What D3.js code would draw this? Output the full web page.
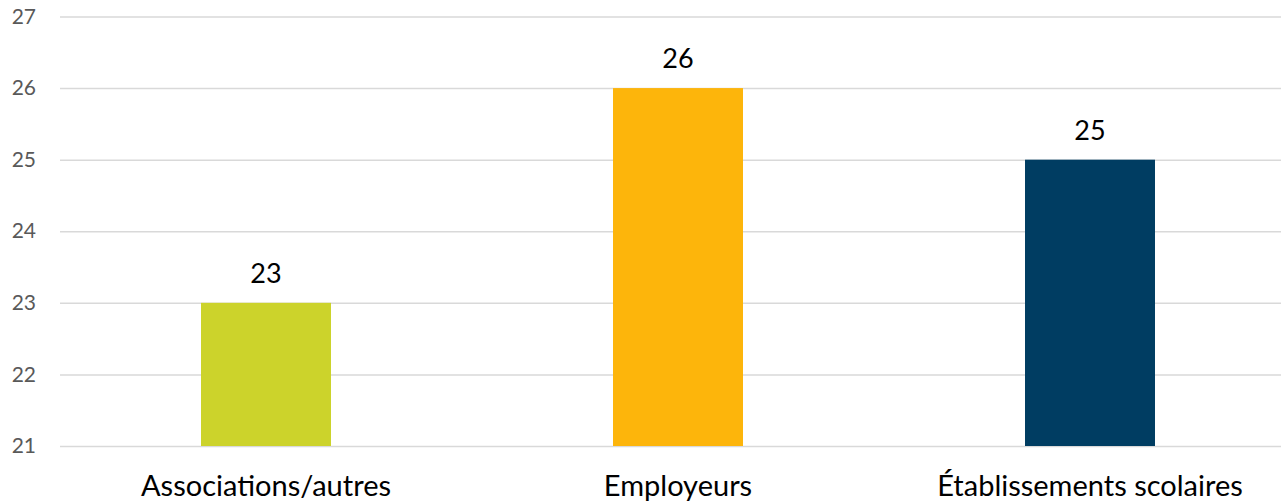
<!DOCTYPE html>
<html><head><meta charset="utf-8">
<script src="https://cdn.jsdelivr.net/npm/d3@7"></script>
<style>body{margin:0;background:#fff}svg{display:block}</style>
</head><body>
<svg id="c" width="1281" height="502"></svg>
<script>
const categories = ["Associations/autres", "Employeurs", "Établissements scolaires"];
const values = [23, 26, 25];
const colors = ["#CCD32B", "#FDB50B", "#003D62"];
const yTicks = [21, 22, 23, 24, 25, 26, 27];

(function () {
const svg = d3.select("#c");
const mLeft = 60, mRight = 1296, mTop = 16.5, mBottom = 446;
const x = d3.scaleBand().domain(categories).range([mLeft, mRight]).paddingInner(0.6845).paddingOuter(0.34225);
const y = d3.scaleLinear().domain([21, 27]).range([mBottom, mTop]);
const font = "Lato, 'Open Sans', sans-serif";

const yAxis = d3.axisLeft(y).tickValues(yTicks).tickSize(-(1281 - mLeft)).tickPadding(24).tickFormat(d3.format("d"));
const gy = svg.append("g").attr("transform", `translate(${mLeft},0)`).call(yAxis);
gy.select(".domain").remove();
gy.selectAll(".tick line").attr("stroke", "#D9D9D9").attr("stroke-width", 1.5);
gy.selectAll(".tick text").attr("fill", "#595959").attr("font-family", font).attr("font-size", 21).attr("x", -24);

svg.selectAll("rect.bar").data(values).enter().append("rect")
  .attr("class", "bar")
  .attr("x", (d, i) => x(categories[i]))
  .attr("width", x.bandwidth())
  .attr("y", d => y(d))
  .attr("height", d => y(21) - y(d))
  .attr("fill", (d, i) => colors[i]);

svg.selectAll("text.val").data(values).enter().append("text")
  .attr("class", "val")
  .attr("x", (d, i) => x(categories[i]) + x.bandwidth() / 2)
  .attr("y", d => y(d) - 20)
  .attr("text-anchor", "middle")
  .attr("font-family", font).attr("font-size", 27).attr("fill", "#000")
  .text(d => d);

const xAxis = d3.axisBottom(x).tickSize(0).tickPadding(0);
const gx = svg.append("g").attr("transform", `translate(0,${mBottom})`).call(xAxis);
gx.select(".domain").remove();
gx.selectAll(".tick text").attr("fill", "#000").attr("font-family", font).attr("font-size", 29)
  .attr("dy", null).attr("y", 50);
})();
</script>
</body></html>
